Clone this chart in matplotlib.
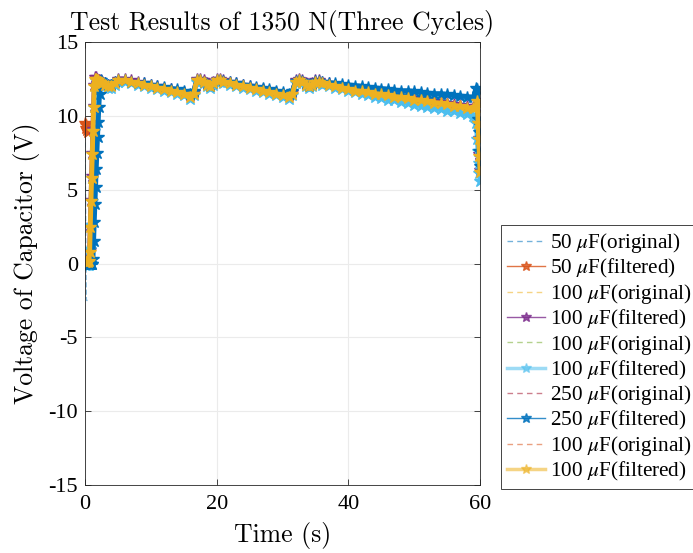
import matplotlib
matplotlib.use('Agg')
import matplotlib.pyplot as plt
from matplotlib.lines import Line2D

plt.rcParams['font.family'] = ['Liberation Serif', 'DejaVu Serif']
plt.rcParams['mathtext.fontset'] = 'stix'
plt.rcParams['axes.unicode_minus'] = False

# sample times (s) shared by the filtered 100/250 uF records
t = [0, 0.2, 0.4, 0.6, 0.7, 0.8, 0.9, 1.0, 1.1, 1.2, 1.3, 1.4, 1.5, 1.6, 1.7, 1.8,
     1.9, 2.0, 2.1, 2.2, 2.3, 2.4, 2.6, 3, 3.5, 4, 4.5, 5, 6, 7, 8, 9, 10, 11, 12,
     13, 14, 15, 16, 16.5, 17, 17.5, 18, 18.5, 19, 19.5, 20, 20.5, 21, 22, 23, 24,
     25, 26, 27, 28, 29, 30, 31, 31.5, 32, 32.5, 33, 33.5, 34, 34.5, 35, 35.5, 36,
     37, 38, 39, 40, 41, 42, 43, 44, 45, 46, 47, 48, 49, 50, 51, 52, 53, 54, 55,
     56, 57, 58, 59, 59.4, 59.6, 59.7, 59.8, 59.9, 60]

# 50 uF record (only the first instants)
t_50 = [0, 0.1, 0.2, 0.3, 0.4]
v_50_orig = [9.2, 3.0, -2.5, -2.5, -2.5]
v_50_filt = [9.5, 9.35, 9.2, 9.05, 8.9]

v_100a = [0.1, 0.1, 0.1, 0.2, 0.9, 2.6, 4.3, 5.9, 7.5, 9.1, 10.7, 12.1, 12.6, 12.6,
          12.5, 12.5, 12.45, 12.4, 12.4, 12.35, 12.35, 12.3, 12.3, 12.2, 12.1, 12.1,
          12.3, 12.5, 12.5, 12.4, 12.3, 12.2, 12.1, 12.0, 11.9, 11.8, 11.7, 11.6, 11.4,
          11.6, 12.5, 12.5, 12.4, 12.2, 12.1, 12.3, 12.5, 12.5, 12.4, 12.3, 12.2, 12.1,
          12.0, 11.9, 11.8, 11.7, 11.6, 11.5, 11.4, 11.6, 12.4, 12.5, 12.4, 12.2, 12.1,
          12.2, 12.4, 12.4, 12.3, 12.2, 12.1, 12.0, 11.9, 11.8, 11.75, 11.7, 11.6,
          11.55, 11.5, 11.4, 11.35, 11.3, 11.2, 11.15, 11.1, 11.0, 10.95, 10.9, 10.8,
          10.75, 10.65, 10.6, 10.7, 11.1, 9.6, 8.5, 7.4, 6.3]

v_100b = [-0.1, -0.1, -0.1, -0.1, 0.0, 1.0, 2.6, 4.2, 5.8, 7.4, 9.0, 10.6, 12.0, 12.4,
          12.4, 12.35, 12.3, 12.3, 12.25, 12.2, 12.2, 12.15, 12.1, 12.0, 11.9, 11.9,
          12.1, 12.3, 12.3, 12.2, 12.1, 12.0, 11.9, 11.8, 11.7, 11.6, 11.5, 11.4, 11.15,
          11.4, 12.3, 12.3, 12.2, 12.0, 11.9, 12.1, 12.3, 12.3, 12.2, 12.1, 12.0, 11.9,
          11.8, 11.7, 11.6, 11.5, 11.4, 11.3, 11.15, 11.4, 12.2, 12.3, 12.2, 12.0, 11.9,
          12.0, 12.2, 12.2, 12.1, 12.0, 11.9, 11.8, 11.7, 11.6, 11.5, 11.4, 11.3, 11.2,
          11.1, 11.05, 10.95, 10.85, 10.75, 10.7, 10.6, 10.5, 10.45, 10.35, 10.3, 10.2,
          10.1, 10.0, 9.5, 8.4, 7.6, 6.8, 6.1, 5.6]

v_250 = [0.0, 0.0, 0.0, 0.0, 0.0, 0.0, 0.0, 0.0, 0.0, 0.3, 1.5, 2.8, 4.0, 5.2, 6.4,
         7.5, 8.6, 9.6, 10.6, 11.5, 12.2, 12.4, 12.3, 12.2, 12.1, 12.1, 12.3, 12.4,
         12.4, 12.3, 12.25, 12.2, 12.1, 12.0, 11.95, 11.85, 11.8, 11.7, 11.5, 11.7,
         12.4, 12.4, 12.3, 12.15, 12.05, 12.25, 12.4, 12.4, 12.35, 12.3, 12.2, 12.1,
         12.05, 11.95, 11.9, 11.8, 11.7, 11.6, 11.5, 11.7, 12.35, 12.4, 12.35, 12.15,
         12.05, 12.15, 12.35, 12.35, 12.3, 12.25, 12.2, 12.15, 12.1, 12.05, 12.0,
         11.95, 11.9, 11.85, 11.8, 11.75, 11.7, 11.7, 11.65, 11.6, 11.55, 11.5, 11.5,
         11.45, 11.4, 11.35, 11.3, 11.25, 11.9, 11.8, 9.8, 8.9, 7.6, 6.6]

v_100c = [0.1, 0.1, 0.1, 0.2, 0.8, 2.5, 4.2, 5.8, 7.4, 9.0, 10.6, 12.0, 12.5, 12.5,
          12.4, 12.4, 12.4, 12.3, 12.3, 12.3, 12.3, 12.2, 12.2, 12.1, 12.0, 12.0, 12.2,
          12.4, 12.4, 12.3, 12.2, 12.1, 12.0, 11.9, 11.8, 11.7, 11.6, 11.5, 11.3, 11.5,
          12.4, 12.4, 12.3, 12.1, 12.0, 12.2, 12.4, 12.4, 12.3, 12.2, 12.1, 12.0, 11.9,
          11.8, 11.7, 11.6, 11.5, 11.4, 11.3, 11.5, 12.3, 12.4, 12.3, 12.1, 12.0, 12.1,
          12.3, 12.3, 12.2, 12.1, 12.0, 11.9, 11.8, 11.7, 11.65, 11.6, 11.5, 11.45,
          11.4, 11.3, 11.25, 11.2, 11.1, 11.05, 11.0, 10.9, 10.85, 10.8, 10.7, 10.65,
          10.55, 10.5, 10.6, 11.0, 9.5, 8.4, 7.3, 6.2]

labels = [r'50 $\mu$F(original)', r'50 $\mu$F(filtered)',
          r'100 $\mu$F(original)', r'100 $\mu$F(filtered)',
          r'100 $\mu$F(original)', r'100 $\mu$F(filtered)',
          r'250 $\mu$F(original)', r'250 $\mu$F(filtered)',
          r'100 $\mu$F(original)', r'100 $\mu$F(filtered)']

c_blue = '#0072BD'
c_orange = '#D95319'
c_yellow = '#EDB120'
c_purple = '#7E2F8E'
c_green = '#77AC30'
c_cyan = '#4DBEEE'
c_red = '#A2142F'

fig = plt.figure(figsize=(6.93, 5.53), dpi=100)
ax = fig.add_axes([0.1227, 0.123, 0.57, 0.801])

orig_kw = dict(ls='--', lw=1.0, alpha=0.45)
filt_kw = dict(ls='-', lw=3.5, marker='*', ms=9)

ax.plot(t_50, v_50_orig, color=c_blue, **orig_kw)
ax.plot(t_50, v_50_filt, color=c_orange, clip_on=False, **filt_kw)
ax.plot(t, v_100a, color=c_yellow, **orig_kw)
ax.plot(t, v_100a, color=c_purple, **filt_kw)
ax.plot(t, v_100b, color=c_green, **orig_kw)
ax.plot(t, v_100b, color=c_cyan, **filt_kw)
ax.plot(t, v_250, color=c_red, **orig_kw)
ax.plot(t, v_250, color=c_blue, **filt_kw)
ax.plot(t, v_100c, color=c_orange, **orig_kw)
ax.plot(t, v_100c, color=c_yellow, **filt_kw)

ax.set_xlim(0, 60)
ax.set_ylim(-15, 15)
ax.set_xticks([0, 20, 40, 60])
ax.set_yticks([-15, -10, -5, 0, 5, 10, 15])
ax.grid(True, color='#ebebeb', lw=0.8)
ax.set_axisbelow(True)
ax.tick_params(direction='in', top=True, right=True, labelsize=16, length=4,
               color='0.15', width=0.6)
ax.tick_params(axis='x', pad=7)
ax.tick_params(axis='y', pad=5)
for s in ax.spines.values():
    s.set_color('0.15')
    s.set_linewidth(0.6)

ax.set_title('Test Results of 1350 N(Three Cycles)', fontsize=18.5,
             family='cmr10', pad=9)
ax.set_xlabel('Time (s)', fontsize=18.5, family='cmr10', labelpad=6)
ax.set_ylabel('Voltage of Capacitor (V)', fontsize=18.5, family='cmr10',
              labelpad=6)

# legend entries drawn with thin lines
handles = []
colors = [c_blue, c_orange, c_yellow, c_purple, c_green, c_cyan, c_red, c_blue,
          c_orange, c_yellow]
for i, c in enumerate(colors):
    if i % 2 == 0:
        handles.append(Line2D([], [], color=c, ls=(0, (4, 3)), lw=1.0, alpha=0.55))
    else:
        lw = 2.5 if c in (c_cyan, c_yellow) else 1.0
        a = 0.55 if c in (c_cyan, c_yellow) else 0.8
        handles.append(Line2D([], [], color=c, ls='-', lw=lw, alpha=a,
                              marker='*', ms=7, markeredgecolor=c))
leg = fig.legend(handles, labels, loc='upper left',
                 bbox_to_anchor=(0.723, 0.593), fontsize=15.3, frameon=True,
                 fancybox=False, edgecolor='0.15', framealpha=1, numpoints=1,
                 handlelength=1.75, handletextpad=0.25, labelspacing=0.085,
                 borderpad=0.3, borderaxespad=0)
leg.get_frame().set_linewidth(0.6)

fig.savefig('out.png', dpi=100)
